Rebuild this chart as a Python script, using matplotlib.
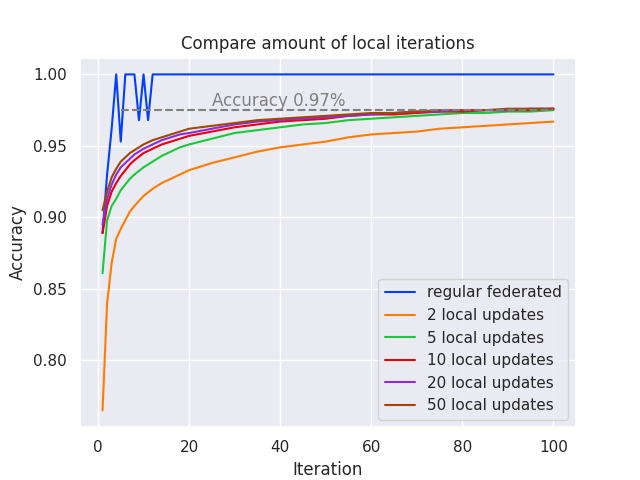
import matplotlib
matplotlib.use("Agg")
import matplotlib.pyplot as plt
import seaborn as sns

sns.set_theme(style="darkgrid", palette="bright")

iters_fed = list(range(1, 101))
fed = [0.889, 0.93, 0.962, 1.0, 0.953, 1.0, 1.0, 1.0, 0.968, 1.0, 0.968] + [1.0] * 89

it = [1, 2, 3, 4, 5, 6, 7, 8, 10, 12, 14, 16, 18, 20, 25, 30, 35, 40, 45, 50, 55, 60, 65, 70, 75, 80, 85, 90, 95, 100]
loc2 = [0.765, 0.84, 0.868, 0.885, 0.892, 0.898, 0.904, 0.908, 0.915, 0.920, 0.924, 0.927, 0.930, 0.933, 0.938, 0.942, 0.946, 0.949, 0.951, 0.953, 0.956, 0.958, 0.959, 0.960, 0.962, 0.963, 0.964, 0.965, 0.966, 0.967]
loc5 = [0.861, 0.898, 0.908, 0.913, 0.919, 0.923, 0.927, 0.930, 0.935, 0.939, 0.943, 0.946, 0.949, 0.951, 0.955, 0.959, 0.961, 0.963, 0.965, 0.966, 0.968, 0.969, 0.970, 0.971, 0.972, 0.973, 0.973, 0.974, 0.974, 0.975]
loc10 = [0.889, 0.908, 0.918, 0.924, 0.929, 0.933, 0.937, 0.940, 0.945, 0.948, 0.951, 0.953, 0.955, 0.957, 0.960, 0.963, 0.965, 0.967, 0.968, 0.969, 0.971, 0.972, 0.972, 0.973, 0.974, 0.974, 0.975, 0.975, 0.975, 0.976]
loc20 = [0.895, 0.913, 0.923, 0.930, 0.935, 0.938, 0.941, 0.944, 0.948, 0.951, 0.954, 0.956, 0.958, 0.959, 0.962, 0.965, 0.967, 0.968, 0.969, 0.970, 0.971, 0.972, 0.973, 0.974, 0.974, 0.975, 0.975, 0.975, 0.976, 0.976]
loc50 = [0.905, 0.918, 0.928, 0.934, 0.939, 0.942, 0.945, 0.947, 0.951, 0.954, 0.956, 0.958, 0.960, 0.962, 0.964, 0.966, 0.968, 0.969, 0.970, 0.971, 0.972, 0.973, 0.973, 0.974, 0.975, 0.975, 0.975, 0.976, 0.976, 0.976]

fig, ax = plt.subplots(figsize=(6.4, 4.8), dpi=100)
ax.plot(iters_fed, fed, label="regular federated")
ax.plot(it, loc2, label="2 local updates")
ax.plot(it, loc5, label="5 local updates")
ax.plot(it, loc10, label="10 local updates")
ax.plot(it, loc20, label="20 local updates")
ax.plot(it, loc50, label="50 local updates")
ax.plot([5, 100], [0.975, 0.975], linestyle="--", color="gray")
ax.text(25, 0.978, "Accuracy 0.97%", color="gray", fontsize=12)
ax.set_title("Compare amount of local iterations")
ax.set_xlabel("Iteration")
ax.set_ylabel("Accuracy")
ax.legend(loc="lower right")
fig.savefig("out.png")
